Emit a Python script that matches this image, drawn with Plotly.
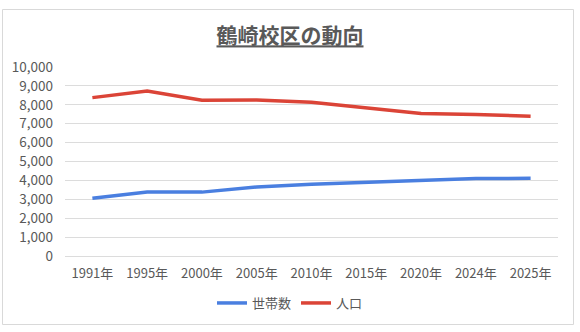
import plotly.graph_objects as go

# 年次ごとの世帯数と人口
years = ["1991年", "1995年", "2000年", "2005年", "2010年", "2015年", "2020年", "2024年", "2025年"]
households = [3050, 3390, 3380, 3650, 3800, 3890, 3970, 4100, 4110]
population = [8380, 8730, 8240, 8260, 8130, 7840, 7540, 7490, 7400]
y_ticks = list(range(0, 10001, 1000))

W, H = 580, 332
ML, MR, MT, MB = 65, 22, 67, 76
PW, PH = W - ML - MR, H - MT - MB

FONT = "Noto Sans CJK JP, Noto Sans, sans-serif"
TEXT = "#595959"

fig = go.Figure()
fig.add_trace(go.Scatter(x=years, y=households, name="世帯数", mode="lines",
                         line=dict(color="#4A7FE0", width=3.5)))
fig.add_trace(go.Scatter(x=years, y=population, name="人口", mode="lines",
                         line=dict(color="#DB4437", width=3.5)))

# 外枠（コンテナ座標をプロット領域基準の paper 座標へ換算）
def px_x(v):
    return (v - ML) / PW

def px_y(v):
    return (H - MB - v) / PH

fig.add_shape(type="rect", xref="paper", yref="paper",
              x0=px_x(2.5), x1=px_x(573.5), y0=px_y(324.5), y1=px_y(9.5),
              line=dict(color="#D9D9D9", width=1), fillcolor="rgba(0,0,0,0)", layer="below")

fig.update_layout(
    width=W, height=H,
    margin=dict(l=ML, r=MR, t=MT, b=MB, autoexpand=False),
    paper_bgcolor="white", plot_bgcolor="white",
    font=dict(family=FONT, color=TEXT, size=12),
    title=dict(text="<b><u>鶴崎校区の動向</u></b>", x=0.5, xref="container",
               xanchor="center", y=1 - 36 / H, yref="container", yanchor="middle",
               font=dict(size=21, color=TEXT, family=FONT)),
    xaxis=dict(type="category", range=[-0.5, len(years) - 0.5], showgrid=False,
               showline=False, ticks="", ticklabelstandoff=8, automargin=False,
               tickfont=dict(size=13, color=TEXT), fixedrange=True),
    yaxis=dict(range=[0, 10000], tickvals=y_ticks, tickformat=",d",
               gridcolor="#DCDCDC", gridwidth=1, zeroline=True, zerolinecolor="#DCDCDC",
               zerolinewidth=1, showline=False, ticks="", ticklabelstandoff=11,
               automargin=False, tickfont=dict(size=13.5, color=TEXT), fixedrange=True),
    legend=dict(orientation="h", x=0.5, xref="container", xanchor="center",
                y=1 - 303 / H, yref="container", yanchor="middle",
                bgcolor="rgba(0,0,0,0)",
                font=dict(size=13, color=TEXT), itemwidth=30, tracegroupgap=0),
    showlegend=True,
)

fig.write_html("out.html")
